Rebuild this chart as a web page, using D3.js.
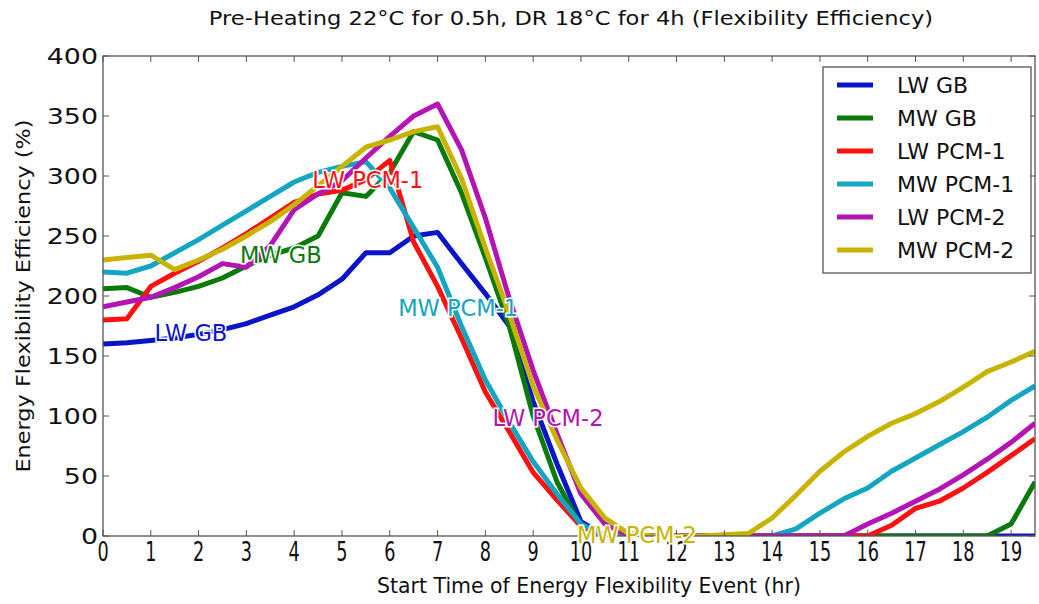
<!DOCTYPE html>
<html>
<head>
<meta charset="utf-8">
<script src="https://cdn.jsdelivr.net/npm/d3@7"></script>
<style>
  body { margin: 0; background: #fff; }
  text { font-family: "DejaVu Sans", sans-serif; }
</style>
</head>
<body>
<div id="chart"></div>
<script>
// half-hour start times 0 .. 19.5
const hours = d3.range(0, 20, 0.5);

const lwGB   = [160,161,163,165,168,172,177,184,191,201,214,236,236,250,253,227,202,175,112,60,12,0,0,0,0,0,0,0,0,0,0,0,0,0,0,0,0,0,0,0];
const mwGB   = [206,207,199,203,208,215,225,234,240,250,286,283,303,337,330,286,232,175,100,45,8,0,0,0,0,0,0,0,0,0,0,0,0,0,0,0,0,0,10,45];
const lwPCM1 = [180,181,208,219,229,240,252,265,278,285,288,297,313,245,208,165,120,87,53,30,8,0,0,0,0,0,0,0,0,0,0,0,0,9,23,29,40,53,67,81];
const mwPCM1 = [220,219,225,236,247,259,271,283,295,303,308,312,290,257,224,175,130,95,62,35,10,0,0,0,0,0,0,0,0,6,19,31,40,54,65,76,87,99,113,125];
const lwPCM2 = [191,195,199,207,216,227,224,242,272,285,296,315,333,350,360,322,265,198,138,85,35,10,0,0,0,0,0,0,0,0,0,0,10,19,29,39,51,64,78,94];
const mwPCM2 = [230,232,234,222,230,239,250,262,276,292,308,324,330,337,341,298,240,185,125,80,40,15,2,0,0,0,1,2,15,34,54,70,83,94,102,112,124,137,145,154];

const seriesNames  = ["LW GB", "MW GB", "LW PCM-1", "MW PCM-1", "LW PCM-2", "MW PCM-2"];
const seriesValues = [lwGB, mwGB, lwPCM1, mwPCM1, lwPCM2, mwPCM2];
const seriesColors = ["#0a14c8", "#0a7a0a", "#ff1010", "#14a5c0", "#b414b4", "#c8b400"];

// inline label anchors (hour, value)
const labelPos = [[1.84, 169], [3.72, 234], [5.54, 297], [7.43, 190], [9.31, 98], [11.17, 1]];

const xTicks = d3.range(0, 20, 1);
const yTicks = d3.range(0, 401, 50);

const W = 1039, H = 604;
const margin = {top: 56, right: 4, bottom: 68, left: 103};

const svg = d3.select("#chart").append("svg").attr("width", W).attr("height", H);

const x = d3.scaleLinear().domain([0, 19.5]).range([margin.left, W - margin.right]);
const y = d3.scaleLinear().domain([0, 400]).range([H - margin.bottom, margin.top]);

svg.append("clipPath").attr("id", "plot")
  .append("rect")
    .attr("x", x(0)).attr("y", y(400))
    .attr("width", x(19.5) - x(0)).attr("height", y(0) - y(400));

// lines
const line = d3.line().x((d, i) => x(hours[i])).y(d => y(d));
const lines = svg.append("g").attr("clip-path", "url(#plot)");
seriesValues.forEach((vals, k) => {
  lines.append("path")
    .attr("d", line(vals))
    .attr("fill", "none")
    .attr("stroke", seriesColors[k])
    .attr("stroke-width", 5)
    .attr("stroke-linejoin", "round");
});

// frame + inward ticks on all sides
const tickLen = 6;
const axisColor = "#555";
svg.append("rect")
  .attr("x", x(0)).attr("y", y(400))
  .attr("width", x(19.5) - x(0)).attr("height", y(0) - y(400))
  .attr("fill", "none").attr("stroke", axisColor).attr("stroke-width", 1.3);

const ticks = svg.append("g").attr("stroke", axisColor).attr("stroke-width", 1);
xTicks.forEach(t => {
  ticks.append("line").attr("x1", x(t)).attr("x2", x(t)).attr("y1", y(0)).attr("y2", y(0) - tickLen);
  ticks.append("line").attr("x1", x(t)).attr("x2", x(t)).attr("y1", y(400)).attr("y2", y(400) + tickLen);
});
yTicks.forEach(v => {
  ticks.append("line").attr("x1", x(0)).attr("x2", x(0) + tickLen).attr("y1", y(v)).attr("y2", y(v));
  ticks.append("line").attr("x1", x(19.5)).attr("x2", x(19.5) - tickLen).attr("y1", y(v)).attr("y2", y(v));
});

// stretched text helper: the source figure has non-uniform scaled fonts
function stext(g, px, py, str, size, sx, anchor) {
  return g.append("text")
    .attr("transform", `translate(${px},${py}) scale(${sx},1)`)
    .attr("text-anchor", anchor || "middle")
    .attr("font-size", size)
    .text(str);
}

// y tick labels
const yLab = svg.append("g").attr("fill", "#111");
yTicks.forEach(v => {
  stext(yLab, x(0) - 5, y(v) + 7.5, String(v), 21, 1.28, "end");
});

// x tick labels (narrow)
const xLab = svg.append("g").attr("fill", "#111");
xTicks.forEach(t => {
  stext(xLab, x(t), y(0) + 25, String(t), 26, 0.68, "middle");
});

// axis titles
stext(svg, (x(0) + x(19.5)) / 2 + 20, H - 11, "Start Time of Energy Flexibility Event (hr)", 22, 0.93, "middle")
  .attr("fill", "#111");
svg.append("text")
  .attr("transform", `translate(30,${(y(0) + y(400)) / 2}) rotate(-90) scale(1.12,1)`)
  .attr("text-anchor", "middle")
  .attr("font-size", 20)
  .attr("fill", "#111")
  .text("Energy Flexibility Efficiency (%)");

// title
stext(svg, 571, 25, "Pre-Heating 22°C for 0.5h, DR 18°C for 4h (Flexibility Efficiency)", 20, 1.13, "middle")
  .attr("fill", "#111");

// inline labels
const inl = svg.append("g");
labelPos.forEach((p, k) => {
  inl.append("text")
    .attr("x", x(p[0])).attr("y", y(p[1]) + 8)
    .attr("text-anchor", "middle")
    .attr("font-size", 22.5)
    .attr("fill", seriesColors[k])
    .attr("stroke", "#fff").attr("stroke-width", 3)
    .attr("paint-order", "stroke")
    .text(seriesNames[k]);
});

// legend
const leg = svg.append("g");
leg.append("rect")
  .attr("x", 823).attr("y", 67).attr("width", 208).attr("height", 206)
  .attr("fill", "#fff").attr("stroke", axisColor).attr("stroke-width", 1.3);
seriesNames.forEach((n, k) => {
  const ly = 85 + k * 33;
  leg.append("line")
    .attr("x1", 837).attr("x2", 873).attr("y1", ly).attr("y2", ly)
    .attr("stroke", seriesColors[k]).attr("stroke-width", 5);
  leg.append("text")
    .attr("x", 897).attr("y", ly + 7.5)
    .attr("font-size", 22).attr("fill", "#111")
    .text(n);
});
</script>
</body>
</html>
